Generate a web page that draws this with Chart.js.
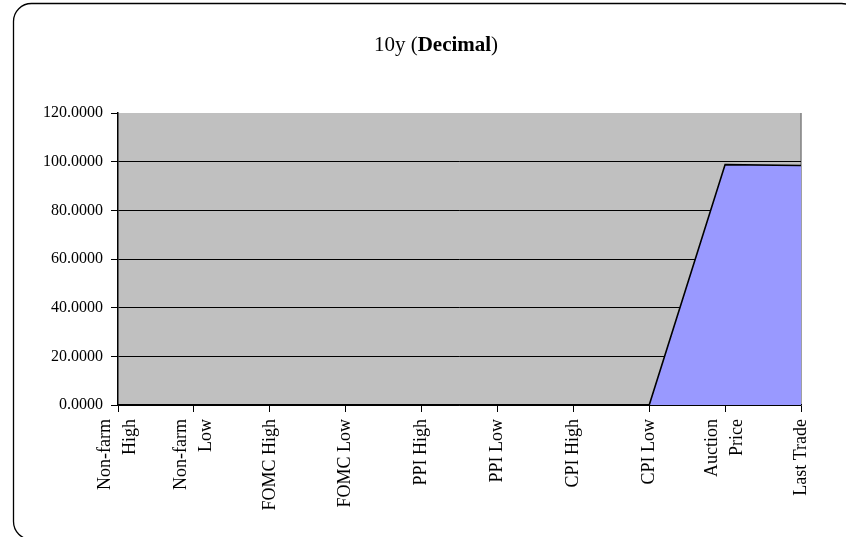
<!DOCTYPE html>
<html>
<head>
<meta charset="utf-8">
<script src="https://cdn.jsdelivr.net/npm/chart.js@4/dist/chart.umd.min.js"></script>
<style>
  html, body { margin: 0; padding: 0; background: #fff; }
  canvas { display: block; }
</style>
</head>
<body>
<canvas id="c" width="846" height="537"></canvas>
<script>
// Event categories along the horizontal axis (multi-line where the label wraps)
const categories = [
  ['Non-farm', 'High'], ['Non-farm', 'Low'], 'FOMC High', 'FOMC Low',
  'PPI High', 'PPI Low', 'CPI High', 'CPI Low', ['Auction', 'Price'], 'Last Trade'
];
// 10y price in decimal per event
const priceValues = [0, 0, 0, 0, 0, 0, 0, 0, 98.8, 98.4];
// Value axis
const yMin = 0;
const yMax = 120;
const yStep = 20;

const SERIF = '"Liberation Serif", "DejaVu Serif", serif';

// Gray plot background, outer rounded frame and the two-weight title
const decorPlugin = {
  id: 'decor',
  beforeDraw(chart) {
    const { ctx, chartArea: a } = chart;
    ctx.save();
    ctx.fillStyle = '#fff';
    ctx.fillRect(0, 0, chart.width, chart.height);
    ctx.fillStyle = '#C0C0C0';
    ctx.fillRect(a.left, a.top, a.right - a.left, a.bottom - a.top);
    ctx.strokeStyle = '#808080';
    ctx.lineWidth = 1.5;
    ctx.beginPath();
    ctx.moveTo(a.right, a.top);
    ctx.lineTo(a.right, a.bottom);
    ctx.stroke();
    ctx.restore();

    // center wrapped category labels on their tick instead of starting at it
    const xs = chart.scales.x;
    xs.getLabelItems(chart.chartArea).forEach(item => {
      if (Array.isArray(item.label) && !item._centered) {
        item.textOffset -= (item.label.length - 1) * item.font.lineHeight / 2;
        item._centered = true;
      }
    });
  },
  afterDraw(chart) {
    const { ctx } = chart;
    ctx.save();
    // rounded frame
    ctx.strokeStyle = '#000';
    ctx.lineWidth = 1.3;
    ctx.beginPath();
    ctx.roundRect(13.5, 3.5, 846, 536, 18);
    ctx.stroke();
    // title: 10y (Decimal) with the middle word bold
    const parts = [
      { t: '10y (', f: 'normal 21px ' + SERIF },
      { t: 'Decimal', f: 'bold 21px ' + SERIF },
      { t: ')', f: 'normal 21px ' + SERIF }
    ];
    let total = 0;
    parts.forEach(p => { ctx.font = p.f; p.w = ctx.measureText(p.t).width; total += p.w; });
    let x = 436 - total / 2;
    ctx.fillStyle = '#000';
    ctx.textBaseline = 'alphabetic';
    parts.forEach(p => { ctx.font = p.f; ctx.fillText(p.t, x, 51); x += p.w; });
    ctx.restore();
  }
};

new Chart(document.getElementById('c'), {
  type: 'line',
  data: {
    labels: categories,
    datasets: [{
      data: priceValues,
      fill: 'origin',
      backgroundColor: '#9999FF',
      borderColor: '#000',
      borderWidth: 1.6,
      pointRadius: 0,
      pointHoverRadius: 0,
      tension: 0
    }]
  },
  options: {
    responsive: false,
    animation: false,
    events: [],
    layout: { padding: { top: 113, right: 45, left: 0, bottom: 0 } },
    plugins: {
      legend: { display: false },
      title: { display: false },
      tooltip: { enabled: false }
    },
    scales: {
      x: {
        offset: false,
        afterFit(s) { s.height = 132; },
        grid: {
          drawOnChartArea: false,
          drawTicks: true,
          tickLength: 7,
          color: '#000',
          lineWidth: 1
        },
        border: { display: true, color: '#000', width: 1.5 },
        ticks: {
          autoSkip: false,
          maxRotation: 90,
          minRotation: 90,
          padding: 7,
          color: '#000',
          font: { family: SERIF, size: 18, lineHeight: 1.4 }
        }
      },
      y: {
        min: yMin,
        max: yMax,
        afterFit(s) { s.width = 118; },
        grid: {
          drawOnChartArea: true,
          drawTicks: true,
          tickLength: 7,
          color: c => (c.tick && c.tick.value === yMax ? 'rgba(0,0,0,0)' : '#000'),
          tickColor: '#000',
          lineWidth: 1
        },
        border: { display: true, color: '#000', width: 1.5 },
        ticks: {
          stepSize: yStep,
          padding: 8,
          color: '#000',
          font: { family: SERIF, size: 16 },
          callback: v => Number(v).toFixed(4)
        }
      }
    }
  },
  plugins: [decorPlugin]
});
</script>
</body>
</html>
